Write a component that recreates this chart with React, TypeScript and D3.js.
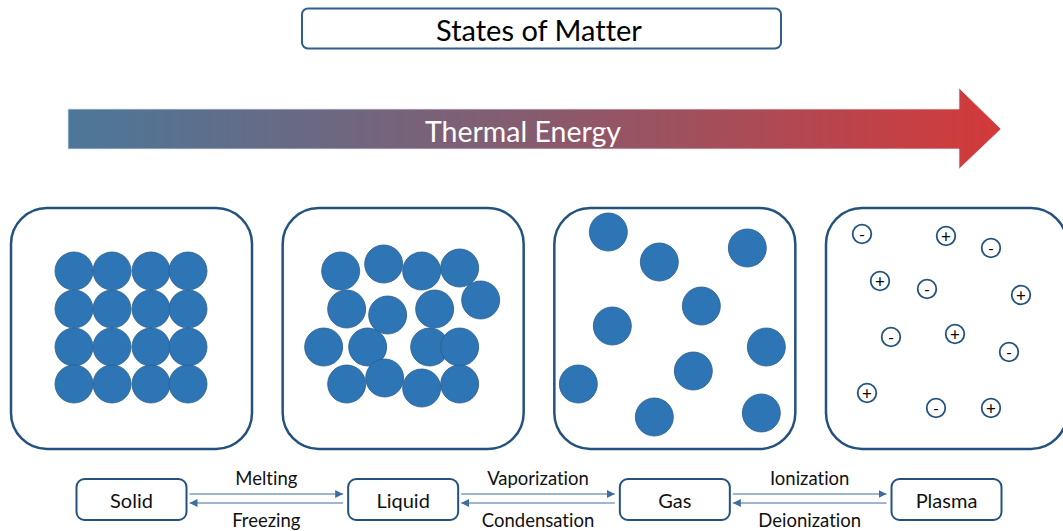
import React from 'react';
import * as d3 from 'd3';

// states shown left to right, with the transitions between neighbours
const states = ['Solid', 'Liquid', 'Gas', 'Plasma'];
const forwardLabels = ['Melting', 'Vaporization', 'Ionization'];
const backwardLabels = ['Freezing', 'Condensation', 'Deionization'];

// particle centres inside each panel (panel units, 0..241)
const solidParticles = [
  [63, 63], [101, 63], [140, 63], [177, 63],
  [63, 101], [101, 101], [140, 101], [177, 101],
  [63, 139], [101, 139], [140, 139], [177, 139],
  [63, 176], [101, 176], [140, 176], [177, 176],
];
const liquidParticles = [
  [58, 63], [101, 56], [139, 63], [177, 60], [198, 92],
  [64, 101], [105, 107], [152, 101],
  [41, 139], [85, 139], [147, 139], [177, 139],
  [64, 176], [102, 170], [139, 180], [177, 176],
];
const gasParticles = [
  [54, 24], [105, 54], [193, 40], [147, 98], [58, 118],
  [212, 139], [139, 163], [24, 176], [100, 209], [207, 205],
];
const plasmaIons = [
  [36, 26, '-'], [120, 28, '+'], [165, 40, '-'],
  [54, 73, '+'], [101, 81, '-'], [195, 87, '+'],
  [65, 129, '-'], [129, 126, '+'], [183, 144, '-'],
  [41, 185, '+'], [110, 200, '-'], [165, 200, '+'],
];

const W = 1063;
const H = 531;
const FONT = 'Lato, "Open Sans", sans-serif';
const navy = '#24527f';
const particleFill = '#2e75b6';

const App = () => {
  const panelX = d3.scaleLinear().domain([0, 3]).range([11, 826]);
  const panelW = 241;
  const panelTop = 208;
  const panelH = 241;
  const u = d3.scaleLinear().domain([0, panelW]).range([0, panelW]);

  const stateBoxW = 110;
  const stateBoxH = 41;
  const stateTop = 479;
  const stateCx = (i: number) => panelX(i) + panelW / 2;

  const particleSets = [solidParticles, liquidParticles, gasParticles];

  // arrow polygon for thermal energy
  const arrow = d3.line()([
    [68, 109], [959, 109], [959, 88], [1001, 129], [959, 169], [959, 149], [68, 149],
  ]) + 'Z';

  return (
    <div style={{ position: 'fixed', left: 0, top: 0, width: W, height: H, background: '#fff' }}>
      <svg width={W} height={H} style={{ display: 'block', fontVariantLigatures: 'none' }} fontFamily={FONT}>
        <defs>
          <linearGradient id="heat" x1="68" x2="1001" y1="0" y2="0" gradientUnits="userSpaceOnUse">
            <stop offset="0" stopColor="#4c7799" />
            <stop offset="0.5" stopColor="#875b6e" />
            <stop offset="1" stopColor="#d4393a" />
          </linearGradient>
          <marker id="head" viewBox="0 0 10 10" refX="10" refY="5" markerWidth="8" markerHeight="8"
            markerUnits="userSpaceOnUse" orient="auto-start-reverse">
            <path d="M0,0 L10,5 L0,10 Z" fill="#3d6d9c" />
          </marker>
        </defs>

        {/* title */}
        <rect x={302} y={8.5} width={479} height={40} rx={6} fill="#fff" stroke="#2f5f8c" strokeWidth={2} />
        <text x={539} y={29} textAnchor="middle" dominantBaseline="central" fontSize={29} fill="#000">
          States of Matter
        </text>

        {/* thermal energy arrow */}
        <path d={arrow} fill="url(#heat)" stroke="#dfe6ef" strokeWidth={0.8} />
        <text x={523} y={131} textAnchor="middle" dominantBaseline="central" fontSize={28.5} fill="#fff">
          Thermal Energy
        </text>

        {/* panels */}
        {states.map((s, i) => (
          <g key={s} transform={`translate(${panelX(i)},${panelTop})`}>
            <rect x={0} y={0} width={panelW} height={panelH} rx={36} fill="#fff" stroke={navy} strokeWidth={2.5} />
            {i < 3 && particleSets[i].map((p, j) => (
              <circle key={j} cx={u(p[0] as number)} cy={u(p[1] as number)} r={19}
                fill={particleFill} stroke="#2a5d8c" strokeWidth={0.8} />
            ))}
            {i === 3 && plasmaIons.map((p, j) => (
              <g key={j} transform={`translate(${u(p[0] as number)},${u(p[1] as number)})`}>
                <circle r={9.3} fill="#fff" stroke={navy} strokeWidth={1.8} />
                <text textAnchor="middle" dominantBaseline="central" y={p[2] === '-' ? -1 : 0}
                  fontSize={p[2] === '-' ? 16 : 17} fill="#000">{p[2]}</text>
              </g>
            ))}
          </g>
        ))}

        {/* state boxes */}
        {states.map((s, i) => (
          <g key={s}>
            <rect x={stateCx(i) - stateBoxW / 2} y={stateTop} width={stateBoxW} height={stateBoxH} rx={8}
              fill="#fff" stroke={navy} strokeWidth={2} />
            <text x={stateCx(i)} y={stateTop + stateBoxH / 2} textAnchor="middle" dominantBaseline="central"
              fontSize={20} fill="#111">{s}</text>
          </g>
        ))}

        {/* transitions */}
        {forwardLabels.map((lab, i) => {
          const x0 = stateCx(i) + stateBoxW / 2 + 3;
          const x1 = stateCx(i + 1) - stateBoxW / 2 - 5;
          const mid = (x0 + x1) / 2;
          return (
            <g key={lab}>
              <line x1={x0} x2={x1} y1={494} y2={494} stroke="#3d6d9c" strokeWidth={1} markerEnd="url(#head)" />
              <line x1={x1} x2={x0} y1={503} y2={503} stroke="#3d6d9c" strokeWidth={1} markerEnd="url(#head)" />
              <text x={mid} y={485} textAnchor="middle" fontSize={18.5} fill="#111">{lab}</text>
              <text x={mid} y={527} textAnchor="middle" fontSize={18.5} fill="#111">{backwardLabels[i]}</text>
            </g>
          );
        })}
      </svg>
    </div>
  );
};

export default App;
